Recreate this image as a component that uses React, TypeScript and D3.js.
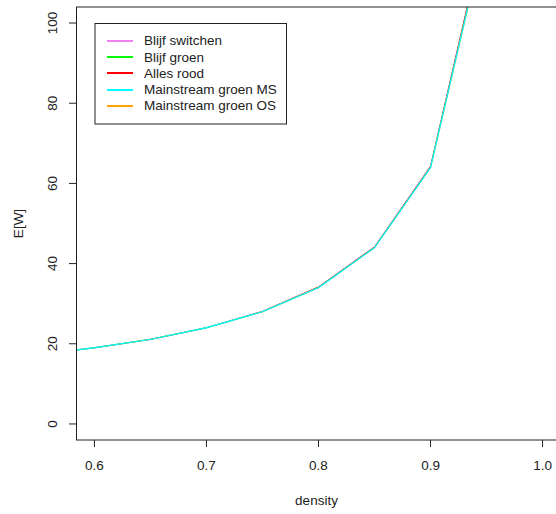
import React from "react";
import * as d3 from "d3";

// Densities at which the expected waiting time was evaluated
const density = [0.5, 0.55, 0.6, 0.65, 0.7, 0.75, 0.8, 0.85, 0.9, 0.95];

// E[W] per strategy
const blijfSwitchen = [16.0, 17.3, 19.0, 21.1, 24.0, 28.0, 34.0, 44.0, 64.0, 124.2];
const blijfGroen = [16.0, 17.3, 19.0, 21.1, 24.0, 28.0, 34.1, 44.1, 64.1, 124.5];
const allesRood = [16.0, 17.3, 19.0, 21.1, 24.0, 28.1, 34.2, 44.2, 64.3, 125.0];
const mainstreamGroenMS = [16.0, 17.3, 19.0, 21.1, 24.0, 28.0, 34.0, 44.0, 64.0, 124.0];
const mainstreamGroenOS = [16.0, 17.3, 19.0, 21.1, 24.0, 28.0, 34.0, 43.9, 63.9, 123.6];

const seriesNames = [
  "Blijf switchen",
  "Blijf groen",
  "Alles rood",
  "Mainstream groen MS",
  "Mainstream groen OS",
];
const seriesColors = ["#EE82EE", "#00FF00", "#FF0000", "#00FFFF", "#FFA500"];
const seriesValues = [blijfSwitchen, blijfGroen, allesRood, mainstreamGroenMS, mainstreamGroenOS];
// order in which the lines are stroked (later on top)
const drawOrder = [0, 1, 2, 4, 3];
const strokeWidths = [1, 1, 1, 1.4, 1];

const xTicks = [0.6, 0.7, 0.8, 0.9, 1.0];
const yTicks = [0, 20, 40, 60, 80, 100];

const W = 556;
const H = 514;
const FONT = "'Liberation Sans', Arial, sans-serif";
const INK = "#222";

export default function App() {
  const left = 76.5;
  const right = 560.5;
  const top = 7;
  const bottom = 440;

  const x = d3.scaleLinear().domain([0.584, 1.016]).range([left, right]);
  const y = d3.scaleLinear().domain([-4, 104]).range([bottom, top]);

  const line = d3
    .line<number>()
    .x((_, i) => x(density[i]))
    .y((v) => y(v));

  const legendX = 95;
  const legendY = 23.5;
  const legendW = 191.5;
  const legendH = 100.5;
  const rowGap = 16.3;

  return (
    <svg
      width={W}
      height={H}
      style={{ position: "absolute", left: 0, top: 0, background: "#fff" }}
      fontFamily={FONT}
    >
      <defs>
        <clipPath id="plot-area">
          <rect x={left} y={top} width={right - left} height={bottom - top} />
        </clipPath>
      </defs>
      <rect x={0} y={0} width={W} height={H} fill="#fff" />

      <g clipPath="url(#plot-area)">
        {drawOrder.map((k) => (
          <path
            key={seriesNames[k]}
            d={line(seriesValues[k]) || ""}
            fill="none"
            stroke={seriesColors[k]}
            strokeWidth={strokeWidths[k]}
          />
        ))}
      </g>

      {/* plot frame */}
      <rect
        x={left}
        y={top}
        width={right - left}
        height={bottom - top}
        fill="none"
        stroke={INK}
        strokeWidth={1}
      />

      {/* x axis */}
      {xTicks.map((t) => (
        <g key={"x" + t}>
          <line x1={x(t)} x2={x(t)} y1={bottom} y2={bottom + 7} stroke={INK} />
          <text
            x={x(t)}
            y={465.5}
            textAnchor="middle"
            dominantBaseline="central"
            fontSize={13.5}
            fill={INK}
          >
            {t.toFixed(1)}
          </text>
        </g>
      ))}

      {/* y axis */}
      {yTicks.map((t) => (
        <g key={"y" + t}>
          <line x1={left - 7.5} x2={left} y1={y(t)} y2={y(t)} stroke={INK} />
          <text
            transform={`translate(52,${y(t)}) rotate(-90)`}
            textAnchor="middle"
            dominantBaseline="central"
            fontSize={13.5}
            fill={INK}
          >
            {t}
          </text>
        </g>
      ))}

      <text
        x={(left + right) / 2 - 2}
        y={500}
        textAnchor="middle"
        dominantBaseline="central"
        fontSize={13.5}
        fill={INK}
      >
        density
      </text>
      <text
        transform={`translate(18,${(top + bottom) / 2}) rotate(-90)`}
        textAnchor="middle"
        dominantBaseline="central"
        fontSize={13.5}
        fill={INK}
      >
        E[W]
      </text>

      {/* legend */}
      <rect
        x={legendX}
        y={legendY}
        width={legendW}
        height={legendH}
        fill="#fff"
        stroke={INK}
        strokeWidth={1}
      />
      {seriesNames.map((name, i) => {
        const cy = 40.7 + i * rowGap;
        const ly = Math.round(cy);
        return (
          <g key={name}>
            <line x1={107} x2={133} y1={ly} y2={ly} stroke={seriesColors[i]} strokeWidth={2} />
            <text x={144} y={cy} dominantBaseline="central" fontSize={13.5} fill={INK}>
              {name}
            </text>
          </g>
        );
      })}
    </svg>
  );
}
